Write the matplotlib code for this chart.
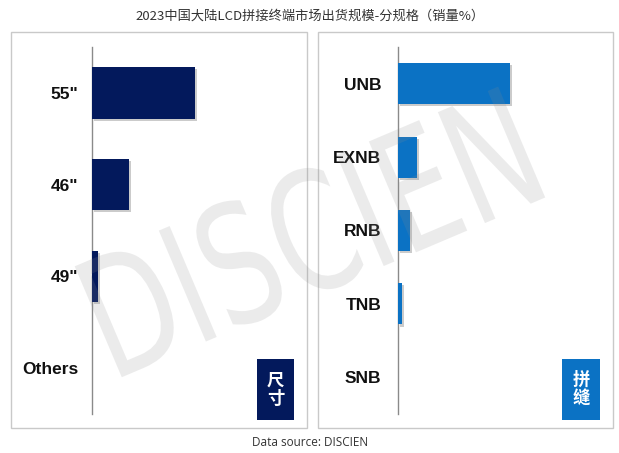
import matplotlib
matplotlib.use("Agg")
import matplotlib.pyplot as plt
import matplotlib.patheffects as pe
from matplotlib.patches import Rectangle, PathPatch
from matplotlib.textpath import TextPath
from matplotlib.font_manager import FontProperties
from matplotlib.transforms import Affine2D, IdentityTransform

# ---- data ----
size_labels = ['55"', '46"', '49"', 'Others']
size_values = [70, 25, 4, 0]
slit_labels = ['UNB', 'EXNB', 'RNB', 'TNB', 'SNB']
slit_values = [76, 13, 8, 3, 0]
title = "2023中国大陆LCD拼接终端市场出货规模-分规格（销量%）"
source = "Data source: DISCIEN"
tag_left = "尺\n寸"
tag_right = "拼\n缝"
watermark = "DISCIEN"

navy = "#03195c"
blue = "#0b72c4"

W, H = 619, 453
fig = plt.figure(figsize=(W / 100, H / 100), dpi=100)
fig.patch.set_facecolor("white")

def fx(px):
    return px / W

def fy(py):
    return 1 - py / H

# panel frames
for x0, x1 in [(11, 307), (318, 613)]:
    fig.patches.append(Rectangle((fx(x0), fy(428)), fx(x1 - x0), (428 - 32) / H,
                                 transform=fig.transFigure, fill=False,
                                 edgecolor="#c9c9c9", linewidth=1.0, zorder=0))

def make_axes(left_px, labels, values, color, pad):
    ax = fig.add_axes([fx(left_px), fy(414), 147 / W, (414 - 47) / H])
    ax.set_facecolor("none")
    y = list(range(len(labels)))
    bars = ax.barh(y, values, height=0.56, color=color, zorder=3)
    for b in bars:
        b.set_path_effects([pe.SimplePatchShadow(offset=(1.5, -1.5), shadow_rgbFace="#999999", alpha=0.5),
                            pe.Normal()])
    ax.set_xlim(0, 100)
    ax.set_ylim(len(labels) - 0.5, -0.5)
    ax.set_yticks(y)
    ax.set_yticklabels(labels, fontfamily="Liberation Sans", fontweight="bold",
                       fontsize=12.5, color="#111111")
    ax.tick_params(axis="y", length=0, pad=pad)
    ax.set_xticks([])
    for s in ["top", "right", "bottom"]:
        ax.spines[s].set_visible(False)
    ax.spines["left"].set_color("#8a8a8a")
    ax.spines["left"].set_linewidth(1.0)
    return ax

make_axes(92, size_labels, size_values, navy, 10)
make_axes(398, slit_labels, slit_values, blue, 12)

# tags
for (x0, x1, c, t) in [(257, 294, navy, tag_left), (562, 600, blue, tag_right)]:
    fig.patches.append(Rectangle((fx(x0), fy(420)), fx(x1 - x0), (420 - 359) / H,
                                 transform=fig.transFigure, facecolor=c,
                                 edgecolor="none", zorder=2))
    fig.text(fx((x0 + x1) / 2), fy(389.5), t, ha="center", va="center",
             color="white", fontsize=12.5, fontweight="bold",
             fontfamily="Noto Sans CJK SC", linespacing=1.05, zorder=3)

# title and source
fig.text(fx(310), fy(16), title, ha="center", va="center", fontsize=9.5,
         color="#333333", fontfamily=["Noto Sans CJK SC", "DejaVu Sans"])
fig.text(fx(310), fy(443), source, ha="center", va="center", fontsize=8.5,
         color="#333333", fontfamily="Open Sans")

# watermark (condensed light letters, rotated)
tp = TextPath((0, 0), watermark, size=1, prop=FontProperties(family="DejaVu Sans"))
bb = tp.get_extents()
target_w, target_h = 460, 125
tr = (Affine2D()
      .translate(-(bb.x0 + bb.width / 2), -(bb.y0 + bb.height / 2))
      .scale(target_w / bb.width, target_h / bb.height)
      .rotate_deg(23)
      .translate(310, H - 232))
wm_path = tr.transform_path(tp)
fig.patches.append(PathPatch(wm_path, transform=IdentityTransform(),
                             facecolor="#8c8c8c", edgecolor="none",
                             alpha=0.17, zorder=10))

fig.savefig("out.png", dpi=100)
